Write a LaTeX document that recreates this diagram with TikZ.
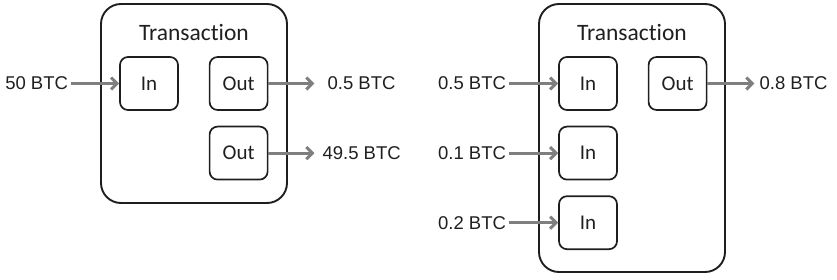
\documentclass[tikz,border=0pt]{standalone}
\usepackage{fontspec}
\setmainfont{Carlito}[Ligatures=NoCommon]
\newfontfamily\amountfont{Liberation Sans}
\usepackage{xcolor}
\usepackage{tikz}
\usetikzlibrary{arrows.meta, positioning}

\definecolor{flowgray}{HTML}{7F7F7F}
\definecolor{boxline}{HTML}{1E1E1E}

\begin{document}
\begin{tikzpicture}[
    x=1pt, y=1pt,
    txbox/.style={rectangle, draw=boxline, line width=1.9pt, rounded corners=20pt, minimum width=186pt, outer sep=0pt},
    title/.style={font=\fontsize{23.5}{26}\selectfont, text=black!88},
    port/.style={rectangle, draw=boxline, line width=1.7pt, rounded corners=8pt, minimum width=58pt, minimum height=53pt, font=\fontsize{21}{24}\selectfont, text=black!88, outer sep=0.8pt},
    amount/.style={font=\amountfont\fontsize{18.5}{21}\selectfont, text=black!88, inner sep=1pt},
    flow/.style={-{Straight Barb[length=6pt, width=12pt]}, line width=3pt, draw=flowgray}
]
\useasboundingbox (0,0) rectangle (837,-280);

% first transaction: one input, two outputs
\node[txbox, minimum height=199pt] (tx1) at (194,-103.5) {};
\node[title] (title1) at (194,-33) {Transaction};
\node[port] (in1) at (149,-83.5) {In};
\node[port, right=30pt of in1] (out1) {Out};
\node[port, below=15pt of out1] (out2) {Out};

\node[amount, left=50pt of in1] (a1) {50 BTC};
\node[amount, right=58pt of out1] (b1) {0.5 BTC};
\node[amount, right=53pt of out2] (b2) {49.5 BTC};

\draw[flow, shorten <=2pt] (a1) -- (in1);
\draw[flow, shorten >=12pt] (out1) -- (b1);
\draw[flow, shorten >=7pt] (out2) -- (b2);

% second transaction: three inputs, one output
\node[txbox, minimum height=268pt] (tx2) at (632,-138) {};
\node[title] (title2) at (632,-33) {Transaction};
\node[port] (in2) at (588,-83.5) {In};
\node[port, below=15pt of in2] (in3) {In};
\node[port, below=15pt of in3] (in4) {In};
\node[port, right=30pt of in2] (out3) {Out};

\node[amount, left=51pt of in2] (c1) {0.5 BTC};
\node[amount, left=51pt of in3] (c2) {0.1 BTC};
\node[amount, left=51pt of in4] (c3) {0.2 BTC};
\node[amount, right=51pt of out3] (d1) {0.8 BTC};

\draw[flow, shorten <=2pt] (c1) -- (in2);
\draw[flow, shorten <=2pt] (c2) -- (in3);
\draw[flow, shorten <=2pt] (c3) -- (in4);
\draw[flow, shorten >=4pt] (out3) -- (d1);
\end{tikzpicture}
\end{document}
